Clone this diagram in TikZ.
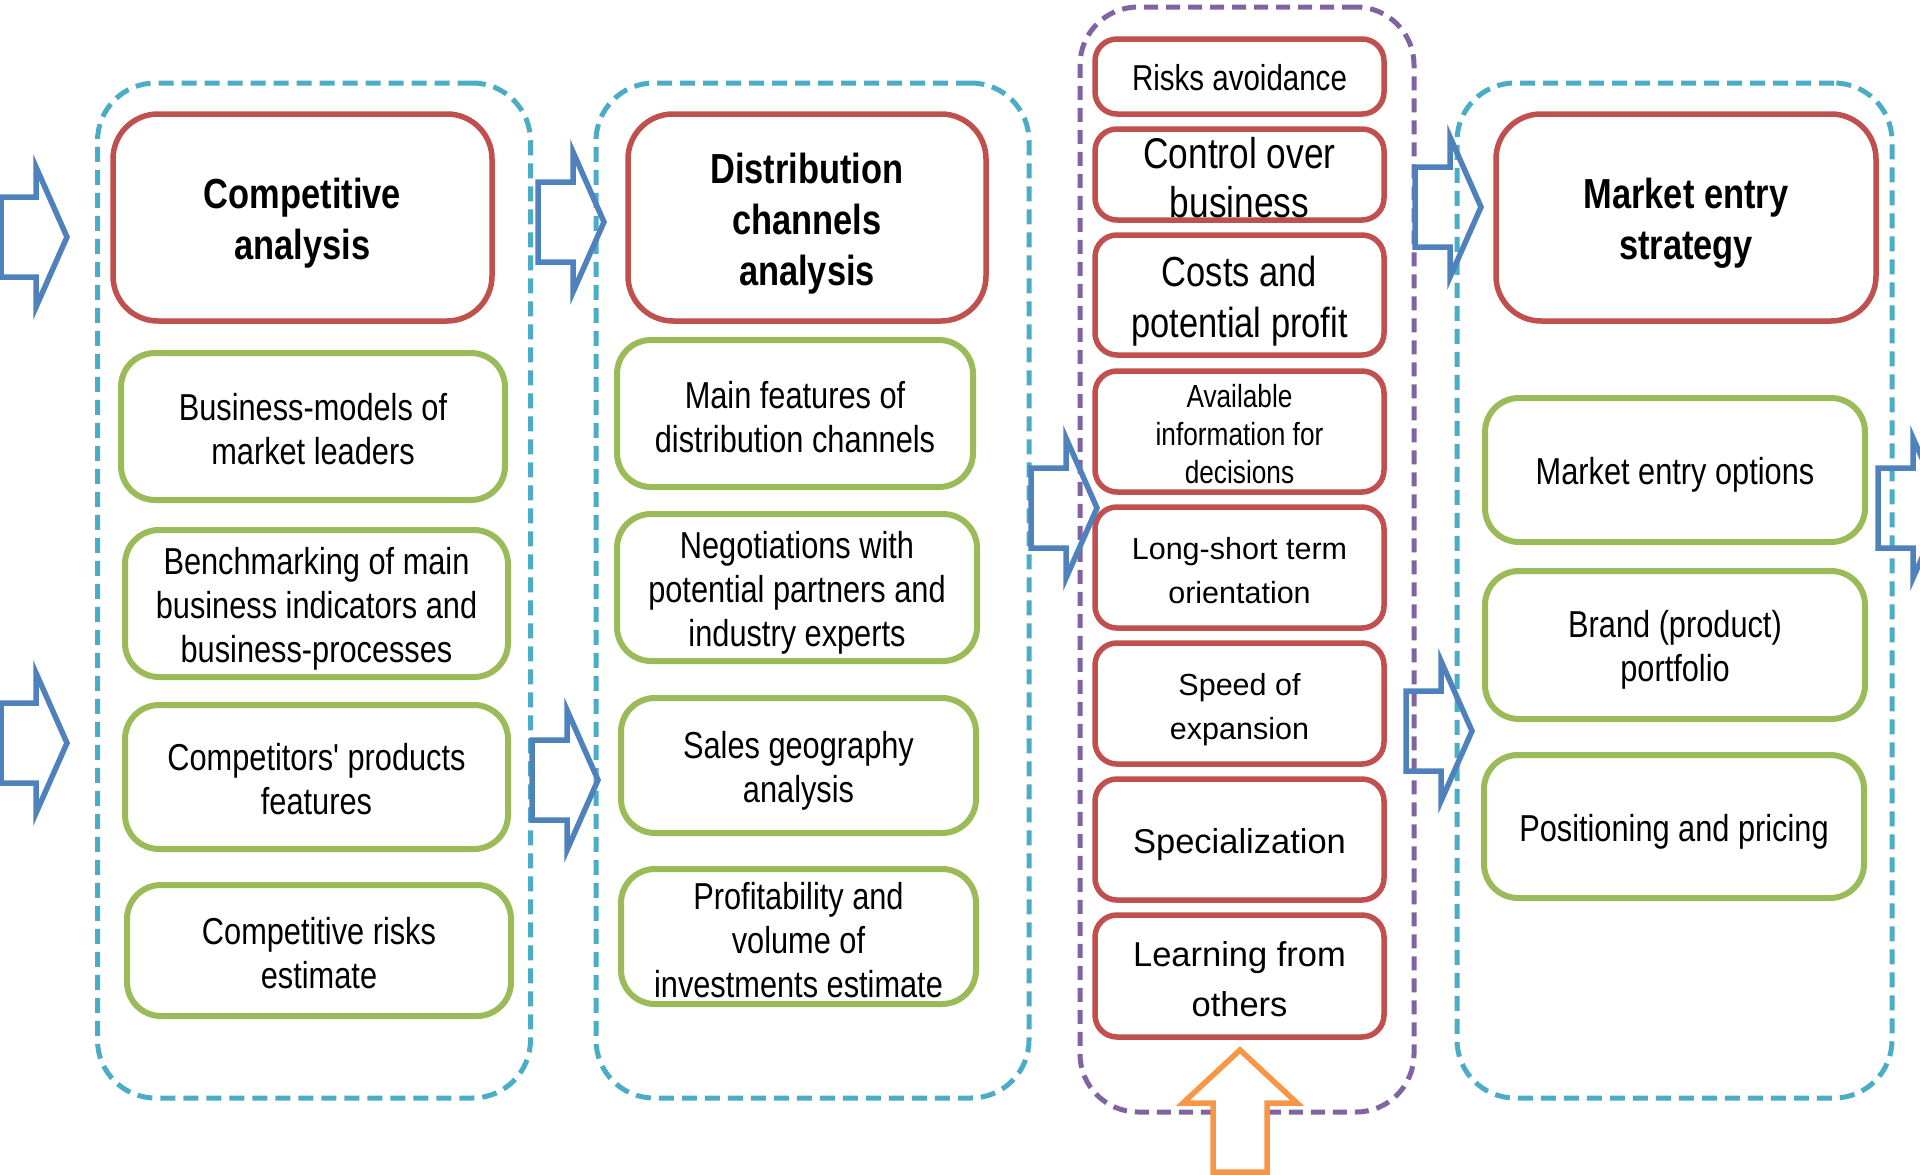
\documentclass[tikz,border=0pt]{standalone}
\usepackage{fontspec}
\setmainfont{Liberation Sans}
\newfontfamily\narrowfont{Liberation Sans}[FakeStretch=0.82]
\usetikzlibrary{positioning}

\definecolor{headred}{HTML}{C0504D}
\definecolor{itemgreen}{HTML}{9BBB59}
\definecolor{stagecyan}{HTML}{4BACC6}
\definecolor{factorpurple}{HTML}{8064A2}
\definecolor{flowblue}{HTML}{4F81BD}
\definecolor{inputorange}{HTML}{F79646}

% raise the first text line a little, as in the original boxes
\newcommand\lift[1][1em]{\rule{0pt}{#1}}

\tikzset{
  boxtext/.style={align=center, inner sep=0pt},
  stage/.style={draw=stagecyan, line width=5pt, dash pattern=on 15pt off 8pt,
    rounded corners=58pt, minimum width=433pt, minimum height=1015pt},
  factorframe/.style={draw=factorpurple, line width=5pt, dash pattern=on 14pt off 8pt,
    rounded corners=58pt},
  headbox/.style={boxtext, draw=headred, line width=5.5pt, rounded corners=45pt,
    font=\narrowfont\bfseries\fontsize{42}{51}\selectfont},
  itembox/.style={boxtext, draw=itemgreen, line width=6pt, rounded corners=34pt,
    font=\narrowfont\fontsize{37.5}{44}\selectfont},
  factorbox/.style={boxtext, draw=headred, line width=5.5pt, rounded corners=22pt,
    minimum width=289pt},
  flowline/.style={draw=flowblue, line width=5.5pt, line join=miter},
  flow/.pic={
    \draw[flowline] (-66,-40) -- (-31,-40) -- (-31,-70) -- (0,0)
      -- (-31,70) -- (-31,40) -- (-66,40) -- cycle;
  },
  inflow/.pic={
    \draw[draw=inputorange, fill=white, line width=5.5pt, line join=miter]
      (0,0) -- (57,53) -- (27,53) -- (27,122) -- (-27,122) -- (-27,53)
      -- (-57,53) -- cycle;
  }
}

\begin{document}
\begin{tikzpicture}[x=1pt, y=-1pt]
  \useasboundingbox (0,0) rectangle (1920,1175);

  % stages
  \node[stage] (compstage) at (314,590.5) {};
  \node[stage] (diststage) at (812.5,590.5) {};
  \node[factorframe, minimum width=334pt, minimum height=1105pt] (factors) at (1247,559.5) {};
  \node[stage, minimum width=435pt] (entrystage) at (1674.5,590.5) {};

  % competitive analysis
  \node[headbox, minimum width=379pt, minimum height=207pt] (comp) at (302.5,217.5) {\lift Competitive\\analysis};
  \node[itembox, minimum width=384pt, minimum height=147pt] (leaders) at (313,426.5) {\lift[0.86em]Business-models of\\market leaders};
  \node[itembox, minimum width=383pt, minimum height=147pt] (bench) at (316.5,603.5) {\lift Benchmarking of main\\business indicators and\\business-processes};
  \node[itembox, minimum width=383pt, minimum height=144pt] (products) at (316.5,777) {\lift[0.86em]Competitors' products\\features};
  \node[itembox, minimum width=384pt, minimum height=131pt] (risks) at (319,950.5) {\lift[0.86em]Competitive risks\\estimate};

  % distribution channels
  \node[headbox, minimum width=358pt, minimum height=207pt] (dist) at (807,217.5) {\lift Distribution\\channels\\analysis};
  \node[itembox, minimum width=356pt, minimum height=147pt] (features) at (795,413.5) {\lift[0.9em]Main features of\\distribution channels};
  \node[itembox, minimum width=360pt, minimum height=147pt] (partners) at (797,587.5) {\lift Negotiations with\\potential partners and\\industry experts};
  \node[itembox, minimum width=355pt, minimum height=135pt] (geo) at (798.5,765.5) {\lift Sales geography\\analysis};
  \node[itembox, minimum width=355pt, minimum height=135pt] (profit) at (798.5,936.5) {\lift[0.9em]Profitability and\\volume of\\investments estimate};

  % factors
  \node[factorbox, minimum height=75pt, font=\narrowfont\fontsize{36}{42}\selectfont] (avoid) at (1239.5,76.5) {\lift[0.8em]Risks avoidance};
  \node[factorbox, minimum height=91pt, font=\narrowfont\fontsize{43}{49}\selectfont] (control) at (1239.5,174.5) {\lift[0.86em]Control over\\business};
  \node[factorbox, minimum height=120pt, font=\narrowfont\fontsize{42}{51}\selectfont] (costs) at (1239.5,295) {\lift Costs and\\potential profit};
  \node[factorbox, minimum height=121pt, font=\narrowfont\fontsize{32}{38}\selectfont] (info) at (1239.5,431.5) {\lift[0.89em]Available\\information for\\decisions};
  \node[factorbox, minimum height=121pt, font=\fontsize{30.5}{44}\selectfont] (term) at (1239.5,567.5) {\lift[0.9em]Long-short term\\orientation};
  \node[factorbox, minimum height=121pt, font=\fontsize{30.5}{44}\selectfont] (speed) at (1239.5,703.5) {\lift[1.1em]Speed of\\expansion};
  \node[factorbox, minimum height=121pt, font=\fontsize{34.5}{50}\selectfont] (special) at (1239.5,839.5) {\lift Specialization};
  \node[factorbox, minimum height=122pt, font=\fontsize{34.5}{50}\selectfont] (learn) at (1239.5,976) {\lift[0.9em]Learning from\\others};

  % market entry strategy
  \node[headbox, minimum width=380pt, minimum height=207pt] (entry) at (1686,217.5) {\lift Market entry\\strategy};
  \node[itembox, minimum width=380pt, minimum height=144pt] (options) at (1675,470) {\lift Market entry options};
  \node[itembox, minimum width=380pt, minimum height=148pt] (brand) at (1675,645) {\lift Brand (product)\\portfolio};
  \node[itembox, minimum width=380pt, minimum height=143pt] (pricing) at (1674,826.5) {\lift Positioning and pricing};

  % block arrows
  \pic at (67,237) {flow};
  \pic at (67,743) {flow};
  \pic at (604,222) {flow};
  \pic at (598,780) {flow};
  \pic at (1097,508) {flow};
  \pic at (1481,207) {flow};
  \pic at (1472,731) {flow};
  \pic at (1944,508) {flow};
  \pic at (1240,1050) {inflow};
\end{tikzpicture}
\end{document}
